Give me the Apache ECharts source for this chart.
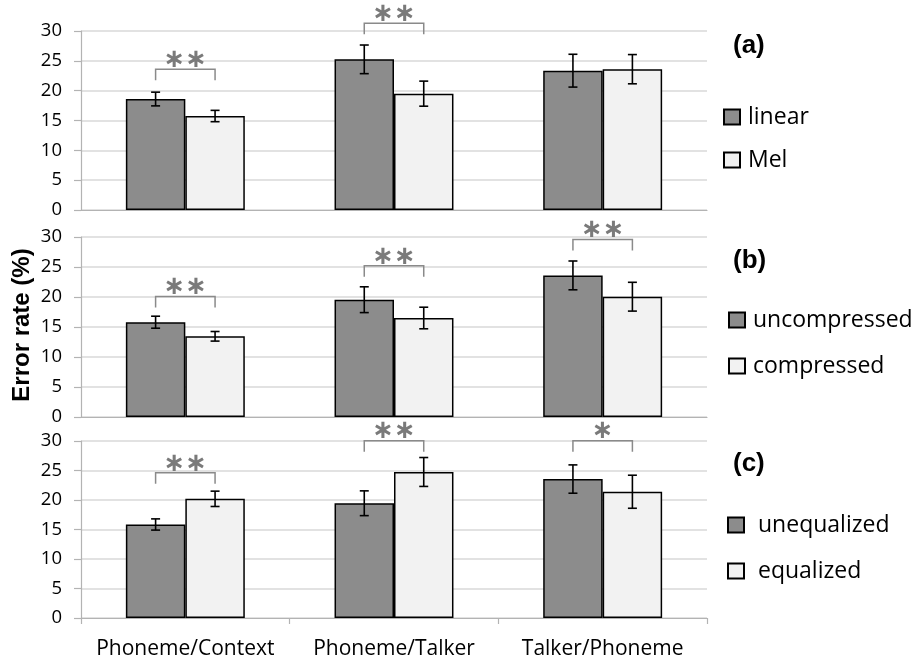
<!DOCTYPE html>
<html>
<head>
<meta charset="utf-8">
<script src="https://cdn.jsdelivr.net/npm/echarts@6/dist/echarts.min.js"></script>
<style>html,body{margin:0;padding:0;background:#fff;}#chart{width:919px;height:666px;}</style>
</head>
<body>
<div id="chart"></div>
<script>
// ---- data ----
const categories = ['Phoneme/Context', 'Phoneme/Talker', 'Talker/Phoneme'];
const yTicks = [0, 5, 10, 15, 20, 25, 30];

// panel (a)
const linearVals = [18.6, 25.25, 23.35];
const linearErr  = [1.15, 2.4, 2.75];
const melVals    = [15.75, 19.5, 23.6];
const melErr     = [0.95, 2.1, 2.45];
const sigCatsA   = [0, 1];
const sigLevelsA = [23.6, 31.3];
const sigMarksA  = ['**', '**'];

// panel (b)
const uncompVals = [15.8, 19.55, 23.6];
const uncompErr  = [1.0, 2.15, 2.4];
const compVals   = [13.45, 16.5, 20.05];
const compErr    = [0.8, 1.8, 2.4];
const sigCatsB   = [0, 1, 2];
const sigLevelsB = [20.1, 25.2, 29.6];
const sigMarksB  = ['**', '**', '**'];

// panel (c)
const uneqVals   = [15.85, 19.45, 23.55];
const uneqErr    = [0.95, 2.1, 2.4];
const eqVals     = [20.2, 24.75, 21.4];
const eqErr      = [1.3, 2.45, 2.8];
const sigCatsC   = [0, 1, 2];
const sigLevelsC = [24.6, 30.05, 30.05];
const sigMarksC  = ['**', '**', '*'];

const panelLabels = ['(a)', '(b)', '(c)'];
const panelSeries = [
  {names: ['linear', 'Mel'], vals: [linearVals, melVals], errs: [linearErr, melErr], sig: [sigCatsA, sigLevelsA, sigMarksA]},
  {names: ['uncompressed', 'compressed'], vals: [uncompVals, compVals], errs: [uncompErr, compErr], sig: [sigCatsB, sigLevelsB, sigMarksB]},
  {names: ['unequalized', 'equalized'], vals: [uneqVals, eqVals], errs: [uneqErr, eqErr], sig: [sigCatsC, sigLevelsC, sigMarksC]}
];

// ---- layout / style ----
const gridTops = [31, 237, 441];
const gridHeights = [179, 180, 177];
const barFill = ['#8c8c8c', '#f2f2f2'];
const BARW = 0.285;
const legendTops = [100, 303, 508];
const legendLefts = [718, 723, 722];
const legendGaps = [19, 22, 22];
const labelY = [48, 263, 466];

const chart = echarts.init(document.getElementById('chart'), null, {renderer: 'canvas'});

const grids = [], xAxes = [], yAxes = [], series = [], legends = [], graphics = [];

panelSeries.forEach((p, gi) => {
  grids.push({left: 81, right: 212, top: gridTops[gi], height: gridHeights[gi]});
  xAxes.push({
    type: 'category', gridIndex: gi, data: categories,
    axisLine: {show: true, lineStyle: {color: '#b3b3b3', width: 1.2}},
    axisTick: {show: gi === 2, length: 6, lineStyle: {color: '#b3b3b3', width: 1.2}},
    axisLabel: {show: gi === 2, interval: 0, margin: 21, fontFamily: 'Open Sans', fontSize: 21, color: '#000'}
  });
  yAxes.push({
    type: 'value', gridIndex: gi, min: 0, max: 30, interval: 5,
    axisLine: {show: true, lineStyle: {color: '#b3b3b3', width: 1.2}},
    axisTick: {show: true, length: 7, lineStyle: {color: '#b3b3b3', width: 1.2}},
    axisLabel: {margin: 19, fontFamily: 'Open Sans', fontSize: 18.5, color: '#000',
      formatter: v => yTicks.indexOf(v) >= 0 ? String(v) : ''},
    splitLine: {show: true, lineStyle: {color: '#d9d9d9', width: 1.5}}
  });
  p.names.forEach((nm, si) => {
    series.push({
      name: nm, type: 'bar', xAxisIndex: gi, yAxisIndex: gi,
      data: p.vals[si], barWidth: (BARW * 100) + '%', barGap: '0%',
      itemStyle: {color: barFill[si], borderColor: '#000', borderWidth: 1.5},
      emphasis: {disabled: true}, z: 2
    });
  });
  // error bars
  p.names.forEach((nm, si) => {
    const side = si === 0 ? -1 : 1;
    series.push({
      type: 'custom', xAxisIndex: gi, yAxisIndex: gi, z: 5, silent: true,
      data: p.vals[si].map((v, i) => [i, v - p.errs[si][i], v + p.errs[si][i]]),
      encode: {x: 0, y: [1, 2]},
      renderItem: (params, api) => {
        const bw = api.size([1, 0])[0];
        const lo = api.coord([api.value(0), api.value(1)]);
        const hi = api.coord([api.value(0), api.value(2)]);
        const x = lo[0] + side * bw * BARW / 2;
        const st = {stroke: '#000', lineWidth: 1.6};
        return {type: 'group', children: [
          {type: 'line', shape: {x1: x, y1: lo[1], x2: x, y2: hi[1]}, style: st},
          {type: 'line', shape: {x1: x - 4.5, y1: lo[1], x2: x + 4.5, y2: lo[1]}, style: st},
          {type: 'line', shape: {x1: x - 4.5, y1: hi[1], x2: x + 4.5, y2: hi[1]}, style: st}
        ]};
      }
    });
  });
  // significance brackets
  const [cats, levels, marks] = p.sig;
  series.push({
    type: 'custom', xAxisIndex: gi, yAxisIndex: gi, z: 6, silent: true, clip: false,
    data: cats.map((c, i) => [c, levels[i]]),
    encode: {x: 0, y: 1},
    renderItem: (params, api) => {
      const bw = api.size([1, 0])[0];
      const pt = api.coord([api.value(0), api.value(1)]);
      const off = bw * BARW / 2;
      const xl = pt[0] - off, xr = pt[0] + off, y = pt[1];
      return {type: 'group', children: [
        {type: 'polyline', shape: {points: [[xl, y + 11], [xl, y], [xr, y], [xr, y + 11]]},
          style: {stroke: '#8a8a8a', lineWidth: 1.5, fill: null}},
        {type: 'text', x: pt[0], y: y - 9, style: {
          text: marks[params.dataIndex] === '**' ? '\u2217\u2217' : '\u2217',
          fontFamily: 'DejaVu Sans', fontSize: 26, fontWeight: 'bold', fill: '#7a7a7a',
          align: 'center', verticalAlign: 'middle'}}
      ]};
    }
  });
  legends.push({
    data: p.names, orient: 'vertical', left: legendLefts[gi], top: legendTops[gi],
    itemWidth: 16, itemHeight: 15, itemGap: legendGaps[gi], selectedMode: false,
    icon: 'rect',
    textStyle: {fontFamily: 'Open Sans', fontSize: 23, color: '#000', lineHeight: 24,
      padding: [0, 0, 0, gi === 2 ? 9 : 3]}
  });
  graphics.push({type: 'text', left: 733, top: labelY[gi] - 15,
    style: {text: panelLabels[gi], fontFamily: 'Liberation Sans', fontWeight: 'bold', fontSize: 26, fill: '#000'}});
});

graphics.push({type: 'text', x: 22, y: 325, rotation: Math.PI / 2,
  style: {text: 'Error rate (%)', fontFamily: 'Liberation Sans', fontWeight: 'bold', fontSize: 24, fill: '#000',
    align: 'center', verticalAlign: 'middle'}});

chart.setOption({
  animation: false,
  backgroundColor: '#fff',
  grid: grids, xAxis: xAxes, yAxis: yAxes, series: series, legend: legends, graphic: graphics
});
</script>
</body>
</html>
